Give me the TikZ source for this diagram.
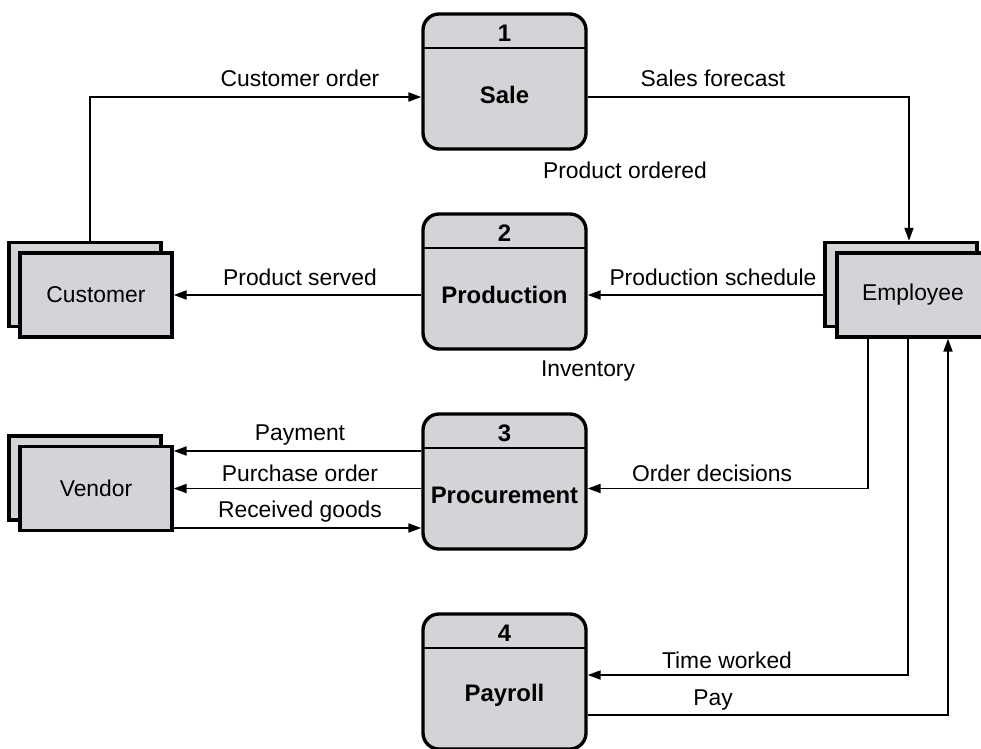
\documentclass[tikz,border=0pt]{standalone}
\usepackage{fontspec}
\setmainfont{Liberation Sans}
\usepackage{tikz}
\usetikzlibrary{arrows.meta,positioning,calc}
\pgfdeclarelayer{edgelayer}
\pgfdeclarelayer{nodelayer}
\pgfsetlayers{edgelayer,nodelayer,main}
\definecolor{boxgray}{RGB}{211,212,215}
\tikzset{font=\fontsize{13}{15}\selectfont}
\tikzstyle{process}=[rectangle,rounded corners=0.32cm,fill=boxgray,draw=black,line width=1.9pt,minimum width=3.26cm,minimum height=2.7cm,
  path picture={\draw[line width=1.1pt] ([yshift=-0.68cm]path picture bounding box.north west) -- ([yshift=-0.68cm]path picture bounding box.north east);}]
\tikzstyle{pnum}=[inner sep=0pt,font=\fontsize{13.6}{15}\selectfont\bfseries]
\tikzstyle{pname}=[inner sep=0pt,font=\fontsize{13.6}{15}\selectfont\bfseries]
\tikzstyle{entity}=[rectangle,fill=boxgray,draw=black,line width=1.9pt,minimum width=3.04cm,minimum height=1.68cm]
\tikzstyle{flow}=[-{Triangle[length=0.26cm,width=0.18cm]},line width=1.1pt]
\tikzstyle{lbl}=[inner sep=1pt]

\begin{document}
\begin{tikzpicture}
	\useasboundingbox (0,0) rectangle (19.62,-14.98);
	\begin{pgfonlayer}{nodelayer}
		\node [style=process] (P1) at (10.09,-1.63) {};
		\node [style=pnum] (P1num) at (10.09,-0.66) {1};
		\node [style=pname] (P1name) at (10.09,-1.90) {Sale};
		\node [style=process] (P2) at (10.09,-5.63) {};
		\node [style=pnum] (P2num) at (10.09,-4.66) {2};
		\node [style=pname] (P2name) at (10.09,-5.90) {Production};
		\node [style=process] (P3) at (10.09,-9.63) {};
		\node [style=pnum] (P3num) at (10.09,-8.66) {3};
		\node [style=pname] (P3name) at (10.09,-9.90) {Procurement};
		\node [style=process] (P4) at (10.09,-13.63) {};
		\node [style=pnum] (P4num) at (10.09,-12.66) {4};
		\node [style=pname] (P4name) at (10.09,-13.90) {Payroll};
		\node [style=entity] (Cback) at (1.70,-5.69) {};
		\node [style=entity] (C) at (1.92,-5.90) {Customer};
		\node [style=entity] (Vback) at (1.70,-9.56) {};
		\node [style=entity] (V) at (1.92,-9.77) {Vendor};
		\node [style=entity] (Eback) at (18.02,-5.69) {};
		% front box runs off the page on the right
		\node [style=entity,minimum width=3.4cm] (E) at (18.44,-5.90) {\hspace*{-0.36cm}Employee};
		\node [style=lbl] (l1) at (6.00,-1.56) {Customer order};
		\node [style=lbl] (l2) at (14.26,-1.56) {Sales forecast};
		\node [style=lbl] (l3) at (12.50,-3.40) {Product ordered};
		\node [style=lbl] (l4) at (6.00,-5.54) {Product served};
		\node [style=lbl] (l5) at (14.26,-5.54) {Production schedule};
		\node [style=lbl] (l6) at (11.76,-7.42) {Inventory};
		\node [style=lbl] (l7) at (6.00,-8.70) {Payment};
		\node [style=lbl] (l8) at (6.00,-9.46) {Purchase order};
		\node [style=lbl] (l9) at (6.00,-10.24) {Received goods};
		\node [style=lbl] (l10) at (14.24,-9.46) {Order decisions};
		\node [style=lbl] (l11) at (14.54,-13.20) {Time worked};
		\node [style=lbl] (l12) at (14.26,-14.00) {Pay};
	\end{pgfonlayer}
	\begin{pgfonlayer}{edgelayer}
		\draw [style=flow] ([xshift=0.1cm]Cback.north) |- ([yshift=-0.31cm]P1.west);
		\draw [style=flow] ([yshift=-0.31cm]P1.east) -| ([xshift=0.16cm]Eback.north);
		\draw [style=flow] (Eback.west |- C.east) -- (P2.east |- C.east);
		\draw [style=flow] (P2.west |- C.east) -- (C.east);
		\draw [style=flow] (P3.west |- 0,-9.02) -- (V.east |- 0,-9.02);
		\draw [style=flow] (P3.west |- V.east) -- (V.east);
		\draw [style=flow] (V.east |- 0,-10.56) -- (P3.west |- 0,-10.56);
		\draw [style=flow] ([xshift=-1.08cm]E.south) |- (P3.east |- V.east);
		\draw [style=flow] ([xshift=-0.28cm]E.south) |- ([yshift=0.13cm]P4.east);
		\draw [style=flow] ([yshift=-0.67cm]P4.east) -| ([xshift=0.52cm]E.south);
	\end{pgfonlayer}
\end{tikzpicture}
\end{document}
